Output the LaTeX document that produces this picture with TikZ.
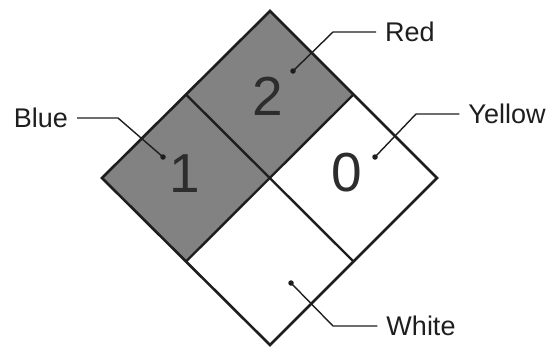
\documentclass[tikz,border=0pt]{standalone}
\usepackage{fontspec}
\setmainfont{Liberation Sans}
\usetikzlibrary{calc}
\definecolor{panelgray}{RGB}{130,130,130}
\definecolor{ink}{RGB}{30,30,30}
\definecolor{digitink}{RGB}{45,45,45}
\begin{document}
\begin{tikzpicture}[x=1pt,y=-1pt,
  edge/.style={draw=ink,line width=2.6pt,line join=miter},
  divider/.style={draw=ink,line width=2.4pt},
  digit/.style={font=\fontsize{55}{55}\selectfont,text=digitink,inner sep=0pt},
  tag/.style={font=\fontsize{27}{27}\selectfont,text=ink,inner ysep=0pt,inner xsep=9pt},
  leader/.style={draw=ink,line width=1.4pt},
  pin/.style={circle,fill=ink,inner sep=0pt,minimum size=5.5pt}]
\useasboundingbox (0,0) rectangle (553,346);
% corners of the diamond and midpoints of its sides
\coordinate (T) at (270,11);
\coordinate (L) at (102,178);
\coordinate (R) at (437,178);
\coordinate (B) at (270,345);
\coordinate (C) at (270,178);
\coordinate (TL) at ($(T)!0.5!(L)$);
\coordinate (TR) at ($(T)!0.5!(R)$);
\coordinate (BL) at ($(B)!0.5!(L)$);
\coordinate (BR) at ($(B)!0.5!(R)$);
% shaded quadrants
\fill[panelgray] (T) -- (TR) -- (C) -- (TL) -- cycle;
\fill[panelgray] (L) -- (TL) -- (C) -- (BL) -- cycle;
% outline and dividers
\draw[divider] (TL) -- (BR);
\draw[divider] (TR) -- (BL);
\draw[edge] (T) -- (R) -- (B) -- (L) -- cycle;
% ratings
\node[digit] (n2) at (268,96) {2};
\node[digit] (n1) at (185,174) {1};
\node[digit] (n0) at (347,173) {0};
% leader pins
\node[pin] (pR) at (293,71) {};
\node[pin] (pB) at (163,157) {};
\node[pin] (pY) at (375,157) {};
\node[pin] (pW) at (291,283) {};
% labels
\node[tag] (red) at (410,32) {Red};
\node[tag] (blue) at (41,118) {Blue};
\node[tag] (yellow) at (507,114) {Yellow};
\node[tag] (white) at (421,326) {White};
% knees of the leaders
\coordinate (kR) at (333,32);
\coordinate (kB) at (118,118);
\coordinate (kY) at (416,114);
\coordinate (kW) at (333,326);
\draw[leader] (pR.center) -- (kR) -- (red.west);
\draw[leader] (pB.center) -- (kB) -- (blue.east);
\draw[leader] (pY.center) -- (kY) -- (yellow.west);
\draw[leader] (pW.center) -- (kW) -- (white.west);
\end{tikzpicture}
\end{document}
